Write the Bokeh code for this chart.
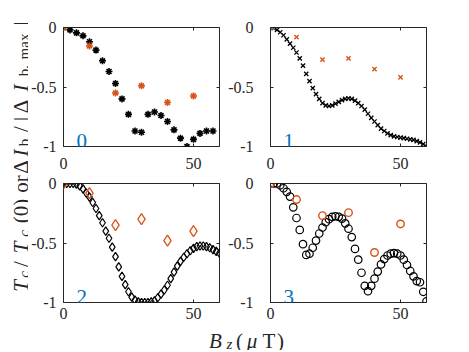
from math import pi
from bokeh.plotting import figure
from bokeh.layouts import row, column
from bokeh.models import Range1d, FixedTicker, LinearAxis, CustomJSTickFormatter, Label
from bokeh.embed import file_html
from bokeh.resources import INLINE

# ---------------- data ----------------
x_ticks = [0, 50]
y_ticks = [-1, -0.5, 0]

x_sparse = [0, 2.5, 5, 7.5, 10, 12.5, 15, 17.5, 20, 22.5, 25, 27.5, 30, 32.5, 35,
            37.5, 40, 42.5, 45, 47.5, 50, 52.5, 55, 57.5]
y0_black = [0, -0.02, -0.045, -0.07, -0.12, -0.19, -0.28, -0.37, -0.47, -0.60, -0.73,
            -0.87, -0.88, -0.73, -0.71, -0.74, -0.79, -0.86, -0.93, -1.0, -0.94, -0.89,
            -0.87, -0.87]

x_dense = [0, 1.25, 2.5, 3.75, 5, 6.25, 7.5, 8.75, 10, 11.25, 12.5, 13.75, 15, 16.25,
           17.5, 18.75, 20, 21.25, 22.5, 23.75, 25, 26.25, 27.5, 28.75, 30, 31.25, 32.5,
           33.75, 35, 36.25, 37.5, 38.75, 40, 41.25, 42.5, 43.75, 45, 46.25, 47.5, 48.75,
           50, 51.25, 52.5, 53.75, 55, 56.25, 57.5, 58.75, 60]
y1_black = [0, -0.005, -0.02, -0.04, -0.065, -0.10, -0.135, -0.17, -0.21, -0.26, -0.32,
            -0.39, -0.45, -0.51, -0.56, -0.60, -0.635, -0.655, -0.66, -0.655, -0.64, -0.625,
            -0.61, -0.60, -0.595, -0.60, -0.615, -0.635, -0.66, -0.69, -0.725, -0.76, -0.79,
            -0.82, -0.85, -0.87, -0.89, -0.905, -0.915, -0.92, -0.925, -0.93, -0.935, -0.94,
            -0.945, -0.955, -0.965, -0.98, -1.0]
y2_black = [0, 0, 0, 0, -0.005, -0.02, -0.045, -0.08, -0.115, -0.16, -0.21, -0.27, -0.33,
            -0.40, -0.46, -0.535, -0.615, -0.70, -0.78, -0.85, -0.91, -0.955, -0.98, -0.995,
            -1.0, -1.0, -1.0, -0.995, -0.985, -0.96, -0.93, -0.895, -0.855, -0.80, -0.745,
            -0.695, -0.655, -0.62, -0.59, -0.565, -0.545, -0.53, -0.525, -0.525, -0.53,
            -0.54, -0.555, -0.57, -0.585]
y3_black = [0, 0, 0, -0.015, -0.04, -0.07, -0.11, -0.20, -0.29, -0.39, -0.51, -0.60, -0.59,
            -0.54, -0.48, -0.42, -0.37, -0.325, -0.30, -0.28, -0.275, -0.28, -0.295, -0.335,
            -0.38, -0.45, -0.55, -0.64, -0.75, -0.86, -0.905, -0.86, -0.80, -0.74, -0.68,
            -0.635, -0.605, -0.59, -0.585, -0.59, -0.605, -0.64, -0.685, -0.735, -0.78,
            -0.82, -0.83, -0.91, -0.99]

x_orange = [0, 10, 20, 30, 40, 50]
y0_orange = [0, -0.155, -0.55, -0.49, -0.63, -0.575]
y1_orange = [0, -0.08, -0.27, -0.26, -0.35, -0.42]
y2_orange = [0, -0.08, -0.35, -0.30, -0.48, -0.40]
y3_orange = [0, -0.135, -0.27, -0.245, -0.58, -0.34]

panel_names = ["0", "1", "2", "3"]

# ---------------- style ----------------
BLACK = "#000000"
ORANGE = "#D95319"
BLUE = "#0072BD"
AX = "#262626"
SERIF = "Liberation Serif"
TOTAL_H = 350


def make_panel(borders, ystandoff, xstandoff):
    left, right, top, bottom = borders
    p = figure(frame_width=156, frame_height=119,
               x_range=Range1d(0, 60), y_range=Range1d(-1, 0),
               min_border_left=left, min_border_right=right,
               min_border_top=top, min_border_bottom=bottom,
               output_backend="svg", toolbar_location=None)
    p.grid.visible = False
    p.outline_line_color = AX
    p.outline_line_width = 1
    p.outline_line_alpha = 1
    fmt = CustomJSTickFormatter(code="return tick.toString();")
    xa = p.xaxis[0]
    ya = p.yaxis[0]
    for ax, ticks in ((xa, x_ticks), (ya, y_ticks)):
        ax.ticker = FixedTicker(ticks=ticks)
        ax.formatter = fmt
        ax.axis_line_color = None
        ax.major_tick_in = 3
        ax.major_tick_out = 0
        ax.minor_tick_in = 0
        ax.minor_tick_out = 0
        ax.major_tick_line_color = AX
        ax.major_label_text_font = SERIF
        ax.major_label_text_font_size = "16px"
        ax.major_label_text_color = AX
    xa.major_label_standoff = xstandoff
    ya.major_label_standoff = ystandoff
    blank = CustomJSTickFormatter(code="return '';")
    for loc, ticks in (("above", x_ticks), ("right", y_ticks)):
        ax = LinearAxis(ticker=FixedTicker(ticks=ticks), formatter=blank,
                        axis_line_color=None, major_tick_in=3, major_tick_out=0,
                        minor_tick_in=0, minor_tick_out=0, major_tick_line_color=AX,
                        major_label_standoff=0, major_label_text_font_size="1px")
        p.add_layout(ax, loc)
    return p


def add_number(p, txt):
    p.add_layout(Label(x=7, y=-0.955, text=txt, text_font=SERIF, text_font_size="21px",
                       text_color=BLUE, text_align="center", text_baseline="alphabetic"))


p0 = make_panel((33, 6, 27, 30), 7, 11)
p0.scatter(x_sparse, y0_black, marker="asterisk", size=7, line_color=BLACK, line_width=1.6)
p0.scatter(x_orange, y0_orange, marker="asterisk", size=7, line_color=ORANGE, line_width=1.6)
add_number(p0, panel_names[0])

p1 = make_panel((44, 10, 27, 30), 17, 11)
p1.scatter(x_dense, y1_black, marker="x", size=6, line_color=BLACK, line_width=1.3)
p1.scatter(x_orange, y1_orange, marker="x", size=6, line_color=ORANGE, line_width=1.4)
add_number(p1, panel_names[1])

p2 = make_panel((33, 6, 7, 24), 7, 5)
p2.scatter(x_dense, y2_black, marker="diamond", size=8.5, line_color=BLACK,
           fill_color=None, line_width=1.2)
p2.scatter(x_orange, y2_orange, marker="diamond", size=11, line_color=ORANGE,
           fill_color=None, line_width=1.3)
add_number(p2, panel_names[2])

p3 = make_panel((44, 10, 7, 24), 17, 5)
p3.scatter(x_dense, y3_black, marker="circle", size=7.5, line_color=BLACK,
           fill_color=None, line_width=1.2)
p3.scatter(x_orange, y3_orange, marker="circle", size=7.5, line_color=ORANGE,
           fill_color=None, line_width=1.4)
add_number(p3, panel_names[3])

# ---------------- shared y label (rotated, built from pieces) ----------------
ylab = figure(frame_width=28, frame_height=TOTAL_H, x_range=Range1d(0, 28),
              y_range=Range1d(-TOTAL_H, 0), min_border=0, x_axis_type=None,
              y_axis_type=None, output_backend="svg", toolbar_location=None)
ylab.grid.visible = False
ylab.outline_line_color = None

MAIN_X = 20
SUB_X = 23.5
# (text, centre along the label, italic?, subscript?)
ylab_pieces = [
    ("T", 285.5, True, False), ("c", 274, True, True), ("/", 263.5, False, False),
    ("T", 247, True, False), ("c", 233, True, True), ("(0)", 210.5, False, False),
    ("or", 183.5, False, False), ("\u0394", 166.5, False, False), ("I", 152.5, True, False),
    ("b", 142, False, True), ("/", 128.5, False, False), ("|", 118.5, False, False),
    ("\u0394", 106, False, False), ("I", 87.5, True, False), ("b,", 70, False, True),
    ("max", 46, False, True), ("|", 23, False, False),
]
for txt, pos, italic, sub in ylab_pieces:
    ylab.add_layout(Label(x=SUB_X if sub else MAIN_X, y=-pos, text=txt, angle=pi / 2,
                          text_font=SERIF, text_font_size="15px" if sub else "21px",
                          text_font_style="italic" if italic else "normal",
                          text_align="center", text_baseline="alphabetic", text_color=AX))

# ---------------- shared x label ----------------
XLAB_TOP = 326
xlab = figure(frame_width=405, frame_height=TOTAL_H - XLAB_TOP, x_range=Range1d(28, 433),
              y_range=Range1d(-TOTAL_H, -XLAB_TOP), min_border=0, x_axis_type=None,
              y_axis_type=None, output_backend="svg", toolbar_location=None)
xlab.grid.visible = False
xlab.outline_line_color = None
xlab_pieces = [
    ("B", 215, True, False), ("z", 229, True, True), ("(", 239, False, False),
    ("\u03bc", 251.5, True, False), ("T", 268.5, False, False), (")", 280, False, False),
]
for txt, pos, italic, sub in xlab_pieces:
    xlab.add_layout(Label(x=pos, y=-343 if sub else -340, text=txt,
                          text_font=SERIF, text_font_size="15px" if sub else "21px",
                          text_font_style="italic" if italic else "normal",
                          text_align="center", text_baseline="alphabetic", text_color=AX))

layout = row(ylab, column(row(p0, p1), row(p2, p3), xlab))
open("out.html", "w").write(file_html(layout, INLINE))
